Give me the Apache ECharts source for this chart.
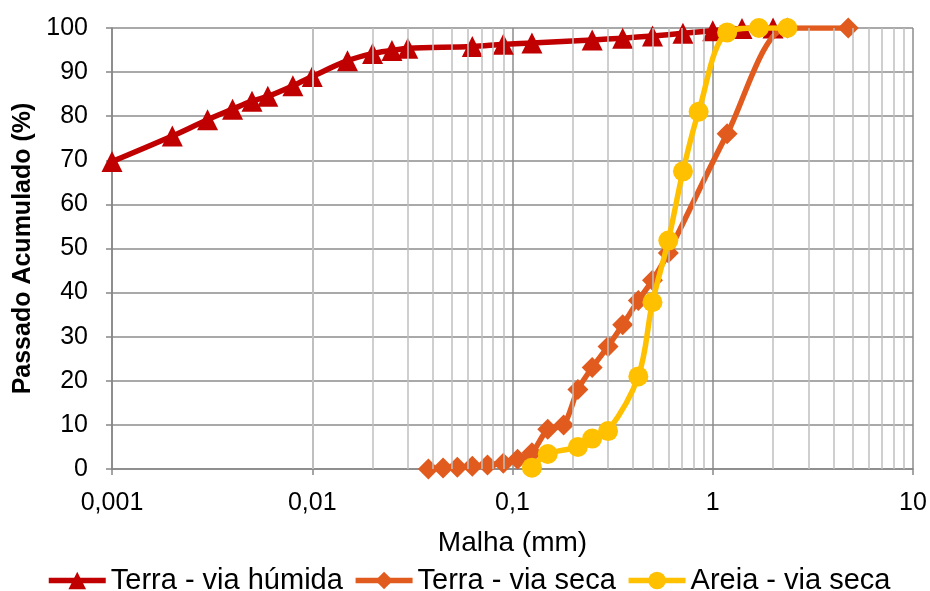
<!DOCTYPE html>
<html>
<head>
<meta charset="utf-8">
<script src="https://cdn.jsdelivr.net/npm/echarts@6/dist/echarts.min.js"></script>
<style>
html,body{margin:0;padding:0;background:#fff;}
#chart{width:930px;height:591px;}
</style>
</head>
<body>
<div id="chart"></div>
<script>
// ---- data ----
const seriesNames = ['Terra - via húmida', 'Terra - via seca', 'Areia - via seca'];

const humidaX = [0.001,0.002,0.003,0.004,0.005,0.006,0.008,0.01,0.015,0.02,0.025,0.03,0.063,0.09,0.125,0.25,0.355,0.5,0.71,1.0,1.4,2.0];
const humidaY = [69.7,75.5,79.2,81.6,83.4,84.5,86.9,89.0,92.6,94.2,94.9,95.4,95.8,96.3,96.6,97.3,97.7,98.2,98.8,99.4,99.9,100];

const secaX = [0.038,0.045,0.053,0.063,0.075,0.09,0.106,0.125,0.15,0.18,0.212,0.25,0.3,0.355,0.425,0.5,0.6,1.18,2.36,4.75];
const secaY = [0,0.2,0.4,0.6,0.9,1.3,2.2,3.7,9.0,10.0,18.0,23.0,27.8,32.7,38.2,42.8,49.0,76.0,100,100];

const areiaX = [0.125,0.15,0.212,0.25,0.3,0.425,0.5,0.6,0.71,0.85,1.18,1.7,2.36];
const areiaY = [0.3,3.4,5.0,6.9,8.6,21.0,37.8,51.8,67.5,81.0,99.0,100,100];

const xTickValues = [0.001, 0.01, 0.1, 1, 10];
const xTickLabels = ['0,001', '0,01', '0,1', '1', '10'];
const yTickLabels = ['0','10','20','30','40','50','60','70','80','90','100'];

// ---- chart ----
const pair = (xs, ys) => xs.map((x, i) => [x, ys[i]]);

// minor log gridline positions (2..9 x 10^k)
const minorGrid = [];
for (let k = -3; k <= 0; k++) {
  for (let m = 2; m <= 9; m++) minorGrid.push({ xAxis: Number((m * Math.pow(10, k)).toPrecision(6)) });
}

const font = 'Liberation Sans, Arial, sans-serif';
const chart = echarts.init(document.getElementById('chart'));

chart.setOption({
  animation: false,
  backgroundColor: '#ffffff',
  grid: { left: 112, right: 17, top: 28, bottom: 122, containLabel: false },
  xAxis: {
    type: 'log',
    logBase: 10,
    min: 0.001,
    max: 10,
    name: 'Malha (mm)',
    nameLocation: 'middle',
    nameGap: 60,
    nameTextStyle: { fontFamily: font, fontSize: 28, color: '#000' },
    axisLine: { show: true, lineStyle: { color: '#868686', width: 1.5 } },
    axisTick: { show: true, length: 6, lineStyle: { color: '#868686', width: 1.5 } },
    axisLabel: {
      margin: 22,
      fontFamily: font, fontSize: 25, color: '#000',
      formatter: function (v) {
        const idx = xTickValues.findIndex(t => Math.abs(Math.log10(t) - Math.log10(v)) < 1e-6);
        return idx >= 0 ? xTickLabels[idx] : '';
      }
    },
    splitLine: { show: true, lineStyle: { color: '#8c8c8c', width: 1.5 } }
  },
  yAxis: {
    type: 'value',
    min: 0,
    max: 100,
    interval: 10,
    name: 'Passado Acumulado (%)',
    nameLocation: 'middle',
    nameGap: 74,
    nameTextStyle: { fontFamily: font, fontSize: 25, fontWeight: 'bold', color: '#000' },
    axisLine: { show: true, lineStyle: { color: '#868686', width: 1.5 } },
    axisTick: { show: true, length: 6, lineStyle: { color: '#868686', width: 1.5 } },
    axisLabel: {
      margin: 24,
      fontFamily: font, fontSize: 25, color: '#000',
      formatter: function (v) { return yTickLabels[Math.round(v / 10)]; }
    },
    splitLine: { show: true, lineStyle: { color: '#8c8c8c', width: 1.5 } }
  },
  legend: {
    data: seriesNames,
    top: 561,
    left: 41,
    itemWidth: 57,
    itemHeight: 22,
    itemGap: 10,
    lineStyle: { width: 5.5 },
    textStyle: { fontFamily: font, fontSize: 29, color: '#000' }
  },
  series: [
    {
      name: '_minor',
      type: 'line',
      data: [],
      silent: true,
      z: 1,
      markLine: {
        silent: true,
        symbol: 'none',
        label: { show: false },
        animation: false,
        lineStyle: { color: '#bfbfbf', width: 1.5, type: 'solid' },
        data: minorGrid
      }
    },
    {
      name: seriesNames[0],
      type: 'line',
      data: pair(humidaX, humidaY),
      smooth: 0.35,
      symbol: 'triangle',
      symbolSize: 21,
      color: '#C00000',
      lineStyle: { width: 5.5, color: '#C00000' },
      itemStyle: { color: '#C00000' },
      z: 3
    },
    {
      name: seriesNames[1],
      type: 'line',
      data: pair(secaX, secaY),
      smooth: 0.3,
      symbol: 'diamond',
      symbolSize: 21,
      color: '#E15B1F',
      lineStyle: { width: 5.5, color: '#E15B1F' },
      itemStyle: { color: '#E15B1F' },
      z: 4
    },
    {
      name: seriesNames[2],
      type: 'line',
      data: pair(areiaX, areiaY),
      smooth: 0.35,
      symbol: 'circle',
      symbolSize: 20,
      color: '#FFC000',
      lineStyle: { width: 5.5, color: '#FFC000' },
      itemStyle: { color: '#FFC000' },
      z: 5
    }
  ]
});
</script>
</body>
</html>
